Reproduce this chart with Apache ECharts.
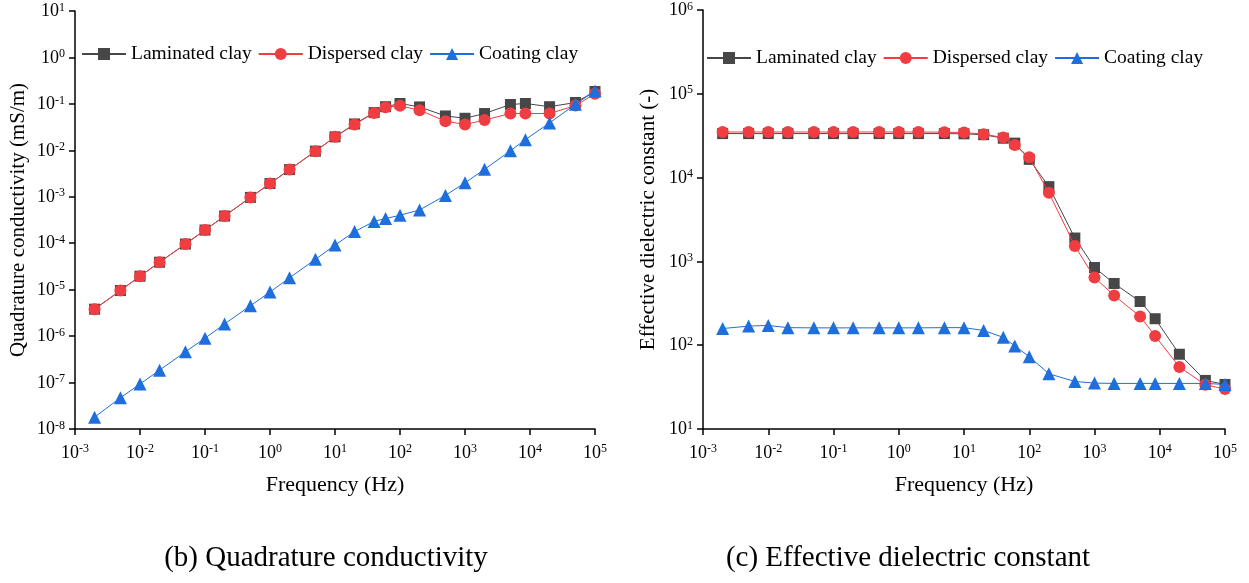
<!DOCTYPE html>
<html>
<head>
<meta charset="utf-8">
<script src="https://cdn.jsdelivr.net/npm/echarts@6/dist/echarts.min.js"></script>
<style>
  html, body { margin: 0; padding: 0; background: #fff; }
  #chart { width: 1249px; height: 583px; }
</style>
</head>
<body>
<div id="chart"></div>
<script>
// Measurement frequencies (Hz)
const freq = [0.002, 0.005, 0.01, 0.02, 0.05, 0.1, 0.2, 0.5, 1, 2, 5, 10, 20, 40, 60, 100, 200, 500, 1000, 2000, 5000, 8500, 20000, 50000, 100000];

// (b) Quadrature conductivity (mS/m)
const condLaminated = [3.8e-6, 9.6e-6, 1.95e-5, 3.9e-5, 9.6e-5, 1.92e-4, 3.85e-4, 9.7e-4, 1.93e-3, 3.85e-3, 9.6e-3, 1.95e-2, 3.7e-2, 6.5e-2, 8.7e-2, 0.102, 0.086, 0.055, 0.049, 0.062, 0.097, 0.102, 0.087, 0.107, 0.185];
const condDispersed = [3.8e-6, 9.6e-6, 1.95e-5, 3.9e-5, 9.6e-5, 1.92e-4, 3.85e-4, 9.7e-4, 1.93e-3, 3.85e-3, 9.6e-3, 1.95e-2, 3.6e-2, 6.4e-2, 8.5e-2, 0.091, 0.073, 0.0425, 0.036, 0.045, 0.062, 0.062, 0.062, 0.092, 0.165];
const condCoating = [1.8e-8, 4.7e-8, 9.3e-8, 1.85e-7, 4.6e-7, 9.0e-7, 1.83e-6, 4.5e-6, 8.9e-6, 1.8e-5, 4.5e-5, 9.1e-5, 1.78e-4, 2.95e-4, 3.4e-4, 4.0e-4, 5.2e-4, 1.07e-3, 2.0e-3, 3.9e-3, 9.8e-3, 1.7e-2, 3.9e-2, 0.098, 0.19];

// (c) Effective dielectric constant (-)
const dielLaminated = [33500, 33500, 33500, 33500, 33500, 33500, 33500, 33500, 33500, 33500, 33500, 33300, 32500, 29500, 25800, 16500, 7800, 1900, 845, 545, 332, 207, 78, 38, 34];
const dielDispersed = [35000, 35000, 35000, 35000, 35000, 35000, 35000, 35000, 35000, 35000, 34800, 34500, 33000, 30000, 24500, 17500, 6600, 1530, 641, 392, 220, 129, 55, 33.7, 30];
const dielCoating = [158, 169, 172, 162, 161, 161, 161, 161, 161, 161, 162, 162, 150, 124, 98, 73, 45.6, 36.9, 35.3, 35, 35, 35, 35, 35, 34];

const seriesNames = ['Laminated clay', 'Dispersed clay', 'Coating clay'];
const colors = ['#474747', '#ef3d42', '#1e6fdc'];
const symbols = ['rect', 'circle', 'triangle'];
const symbolSizes = [11, 12, 13];

const FONT = '"Liberation Serif", "DejaVu Serif", serif';

function pairs(ys) { return freq.map((f, i) => [f, ys[i]]); }

// Decade labels drawn as 10 with a raised exponent
function powLabel(v) {
  const e = Math.round(Math.log10(v));
  return '{b|10}{s|' + e + '}';
}
const labelRich = {
  b: { fontFamily: FONT, fontSize: 18, color: '#000', lineHeight: 19, verticalAlign: 'bottom' },
  s: { fontFamily: FONT, fontSize: 12, color: '#000', lineHeight: 19, verticalAlign: 'top' }
};

function xAxisFor(gridIndex) {
  return {
    type: 'log', logBase: 10, gridIndex,
    min: 0.001, max: 100000, interval: 1,
    name: 'Frequency (Hz)', nameLocation: 'middle', nameGap: 45,
    nameTextStyle: { fontFamily: FONT, fontSize: 22, color: '#000' },
    axisLine: { show: true, lineStyle: { color: '#000', width: 1.5 } },
    axisTick: { show: true, inside: false, length: 6, lineStyle: { color: '#000', width: 1.5 } },
    minorTick: { show: false },
    splitLine: { show: false },
    axisLabel: { formatter: powLabel, rich: labelRich, margin: 14 }
  };
}
function yAxisFor(gridIndex, min, max, name, gap) {
  return {
    type: 'log', logBase: 10, gridIndex,
    min, max, interval: 1,
    name, nameLocation: 'middle', nameGap: gap,
    nameTextStyle: { fontFamily: FONT, fontSize: 21, color: '#000' },
    axisLine: { show: true, lineStyle: { color: '#000', width: 1.5 } },
    axisTick: { show: true, inside: false, length: 6, lineStyle: { color: '#000', width: 1.5 } },
    minorTick: { show: false },
    splitLine: { show: false },
    axisLabel: { formatter: powLabel, rich: labelRich, margin: 10 }
  };
}

function makeSeries(gridIndex, datasets) {
  return datasets.map((ys, k) => ({
    name: seriesNames[k], type: 'line',
    xAxisIndex: gridIndex, yAxisIndex: gridIndex,
    data: pairs(ys),
    symbol: symbols[k], symbolSize: symbolSizes[k],
    showSymbol: true,
    itemStyle: { color: colors[k] },
    lineStyle: { color: colors[k], width: 1 },
    emphasis: { disabled: true },
    z: 2 + k
  }));
}

function legendFor(left, top) {
  return {
    left, top, orient: 'horizontal',
    itemWidth: 44, itemHeight: 15, itemGap: 6,
    textStyle: { fontFamily: FONT, fontSize: 19.5, color: '#000' },
    data: seriesNames.map(n => ({ name: n })),
    selectedMode: false
  };
}

const chart = echarts.init(document.getElementById('chart'), null, { renderer: 'canvas' });
chart.setOption({
  animation: false,
  backgroundColor: '#fff',
  title: [
    { text: '(b) Quadrature conductivity', left: 321, top: 539, textAlign: 'center',
      textStyle: { fontFamily: FONT, fontSize: 29, fontWeight: 'normal', color: '#000' } },
    { text: '(c) Effective dielectric constant', left: 903, top: 539, textAlign: 'center',
      textStyle: { fontFamily: FONT, fontSize: 29, fontWeight: 'normal', color: '#000' } }
  ],
  legend: [
    legendFor(76, 39),
    legendFor(701, 43)
  ],
  grid: [
    { left: 75, top: 11, width: 520, height: 418 },
    { left: 703, top: 10, width: 522, height: 419 }
  ],
  xAxis: [xAxisFor(0), xAxisFor(1)],
  yAxis: [
    yAxisFor(0, 1e-8, 10, 'Quadrature conductivity (mS/m)', 46),
    yAxisFor(1, 10, 1e6, 'Effective dielectric constant (-)', 44)
  ],
  series: [
    ...makeSeries(0, [condLaminated, condDispersed, condCoating]),
    ...makeSeries(1, [dielLaminated, dielDispersed, dielCoating])
  ]
});
</script>
</body>
</html>
